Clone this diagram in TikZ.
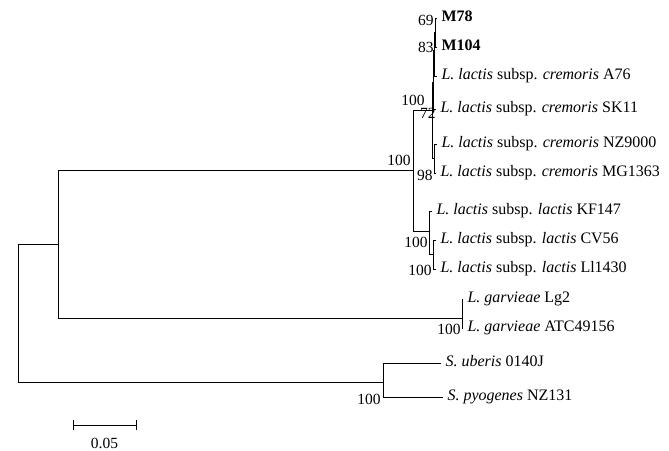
\documentclass[tikz,border=0pt]{standalone}
\usepackage{fontspec}
\setmainfont{Liberation Serif}
\begin{document}
\begin{tikzpicture}[x=1pt,y=-1pt,line width=1pt,
  leaf/.style={anchor=west,inner xsep=4pt,inner ysep=0pt,text height=10pt,text depth=3pt,font=\fontsize{16}{19}\selectfont},
  bs/.style={anchor=east,inner sep=0pt,font=\fontsize{15.5}{18}\selectfont},
  br/.style={line width=1pt}]
\useasboundingbox (0,0) rectangle (669,450);
% internal nodes
\coordinate (root) at (18,313);
\coordinate (lac) at (58,244);
\coordinate (lactis) at (413,170);
\coordinate (crem) at (432,110);
\coordinate (n72) at (433,82);
\coordinate (n83) at (434,50);
\coordinate (n69) at (435,32);
\coordinate (nB) at (434,158);
\coordinate (lact) at (429,231);
\coordinate (ncv) at (433,254);
\coordinate (garv) at (462,318);
\coordinate (strep) at (383,382);
% leaves
\node[leaf] (M78) at (437,18) {\textbf{M78}};
\node[leaf] (M104) at (437,47) {\textbf{M104}};
\node[leaf] (A76) at (437,76) {\textit{L. lactis} subsp. \textit{cremoris} A76};
\node[leaf] (SK11) at (436,109) {\textit{L. lactis} subsp. \textit{cremoris} SK11};
\node[leaf] (NZ9000) at (437,144) {\textit{L. lactis} subsp. \textit{cremoris} NZ9000};
\node[leaf] (MG1363) at (436,173) {\textit{L. lactis} subsp. \textit{cremoris} MG1363};
\node[leaf] (KF147) at (432,211) {\textit{L. lactis} subsp. \textit{lactis} KF147};
\node[leaf] (CV56) at (436,240) {\textit{L. lactis} subsp. \textit{lactis} CV56};
\node[leaf] (Ll1430) at (436,269) {\textit{L. lactis} subsp. \textit{lactis} Ll1430};
\node[leaf] (Lg2) at (463,299) {\textit{L. garvieae} Lg2};
\node[leaf] (ATC) at (463,328) {\textit{L. garvieae} ATC49156};
\node[leaf] (uberis) at (441,363) {\textit{S. uberis} 0140J};
\node[leaf] (pyog) at (443,397) {\textit{S. pyogenes} NZ131};
% branches
\draw[br] (root) |- (lac);
\draw[br] (root) |- (strep);
\draw[br] (lac) |- (lactis);
\draw[br] (lac) |- (garv);
\draw[br] (lactis) |- (crem);
\draw[br] (lactis) |- (lact);
\draw[br] (crem) |- (n72);
\draw[br] (crem) |- (nB);
\draw[br] (n72) |- (n83);
\draw[br] (n72) |- (SK11.west);
\draw[br] (n83) |- (n69);
\draw[br] (n83) |- (A76.west);
\draw[br] (n69) |- (M78.west);
\draw[br] (n69) |- (M104.west);
\draw[br] (nB) |- (NZ9000.west);
\draw[br] (nB) |- (MG1363.west);
\draw[br] (lact) |- (KF147.west);
\draw[br] (lact) |- (ncv);
\draw[br] (ncv) |- (CV56.west);
\draw[br] (ncv) |- (Ll1430.west);
\draw[br] (garv) |- (Lg2.west);
\draw[br] (garv) |- (ATC.west);
\draw[br] (strep) |- (uberis.west);
\draw[br] (strep) |- (pyog.west);
% bootstrap values
\node[bs] (b69) at (434,20) {69};
\node[bs] (b83) at (434,47) {83};
\node[bs] (b100c) at (425,100) {100};
\node[bs] (b72) at (436,113) {72};
\node[bs] (b100l) at (411,160) {100};
\node[bs] (b98) at (433,175) {98};
\node[bs] (b100cv) at (428,242) {100};
\node[bs] (b100ll) at (432,270) {100};
\node[bs] (b100g) at (461,329) {100};
\node[bs] (b100s) at (381,399) {100};
% scale bar
\coordinate (s1) at (73,425);
\coordinate (s2) at (136,425);
\draw[br] (s1) -- (s2);
\draw[br] ([yshift=-5pt]s1) -- ([yshift=5pt]s1);
\draw[br] ([yshift=-5pt]s2) -- ([yshift=5pt]s2);
\node[font=\fontsize{15.5}{18}\selectfont] (sl) at (104.5,443) {0.05};
\end{tikzpicture}
\end{document}
